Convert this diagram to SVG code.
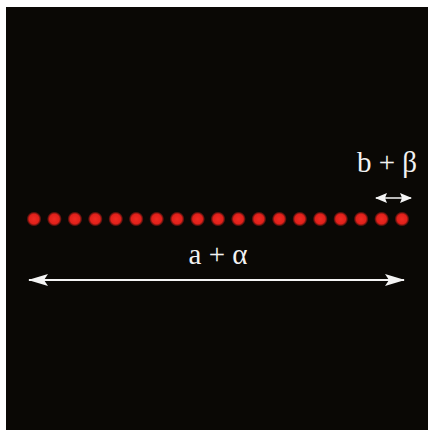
<svg xmlns="http://www.w3.org/2000/svg" width="428" height="430" viewBox="0 0 428 430">
<defs>
<style>
.lbl{font-family:"Liberation Serif","Times New Roman",serif;fill:#f2f2f2;font-size:29px}
.ln{stroke:#f4f4f4;fill:none}
.dot{fill:url(#dg)}
</style>
<radialGradient id="dg">
<stop offset="0" stop-color="#f02a22"/>
<stop offset="0.65" stop-color="#e0201a"/>
<stop offset="1" stop-color="#e0201a" stop-opacity="0"/>
</radialGradient>
<marker id="ah" viewBox="0 0 12 10" refX="11" refY="5" markerWidth="12" markerHeight="10" markerUnits="userSpaceOnUse" orient="auto-start-reverse">
<path d="M0,0 L12,5 L0,10 L2,5 Z" fill="#f4f4f4"/>
</marker>
<marker id="ahb" viewBox="0 0 20 12" refX="19" refY="6" markerWidth="20" markerHeight="12" markerUnits="userSpaceOnUse" orient="auto-start-reverse">
<path d="M0,0 L20,6 L0,12 L4,6 Z" fill="#f4f4f4"/>
</marker>
</defs>
<rect width="428" height="430" fill="#ffffff"/>
<rect x="6" y="7" width="422" height="423" fill="#0a0805"/>
<g id="dots">
<circle class="dot" cx="34" cy="219" r="7.5"/>
<circle class="dot" cx="54.4" cy="219" r="7.5"/>
<circle class="dot" cx="74.9" cy="219" r="7.5"/>
<circle class="dot" cx="95.3" cy="219" r="7.5"/>
<circle class="dot" cx="115.8" cy="219" r="7.5"/>
<circle class="dot" cx="136.2" cy="219" r="7.5"/>
<circle class="dot" cx="156.7" cy="219" r="7.5"/>
<circle class="dot" cx="177.1" cy="219" r="7.5"/>
<circle class="dot" cx="197.6" cy="219" r="7.5"/>
<circle class="dot" cx="218" cy="219" r="7.5"/>
<circle class="dot" cx="238.4" cy="219" r="7.5"/>
<circle class="dot" cx="258.9" cy="219" r="7.5"/>
<circle class="dot" cx="279.3" cy="219" r="7.5"/>
<circle class="dot" cx="299.8" cy="219" r="7.5"/>
<circle class="dot" cx="320.2" cy="219" r="7.5"/>
<circle class="dot" cx="340.7" cy="219" r="7.5"/>
<circle class="dot" cx="361.1" cy="219" r="7.5"/>
<circle class="dot" cx="381.6" cy="219" r="7.5"/>
<circle class="dot" cx="402" cy="219" r="7.5"/>
</g>
<g id="connectors">
<line class="ln" x1="29" y1="280" x2="404" y2="280" stroke-width="2" marker-start="url(#ahb)" marker-end="url(#ahb)"/>
<line class="ln" x1="376" y1="198" x2="411" y2="198" stroke-width="1.5" marker-start="url(#ah)" marker-end="url(#ah)"/>
</g>
<g id="label-a"><text class="lbl" x="218" y="264" text-anchor="middle">a + α</text></g>
<g id="label-b"><text class="lbl" x="387" y="172" text-anchor="middle">b + β</text></g>
</svg>
